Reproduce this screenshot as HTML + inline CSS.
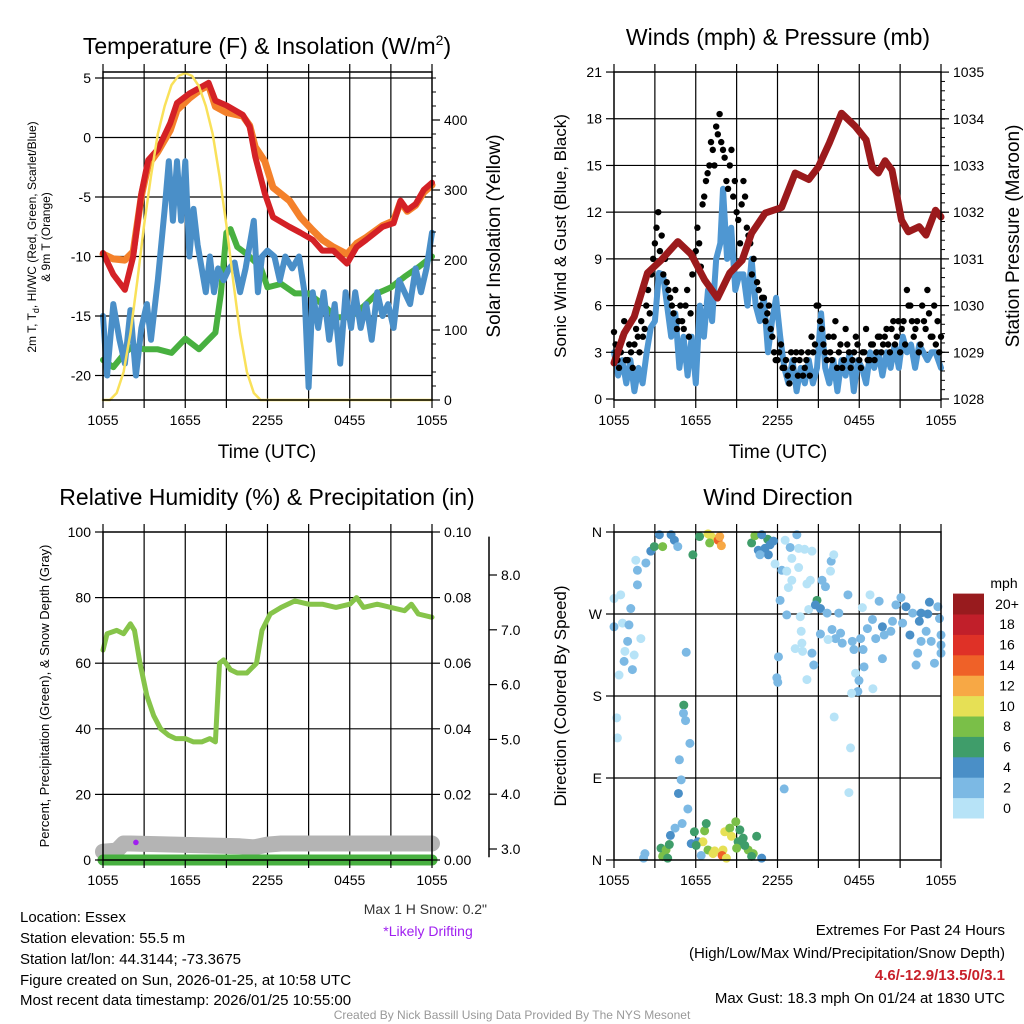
<!DOCTYPE html>
<html><head><meta charset="utf-8"><style>
html,body{margin:0;padding:0;background:#fff;}
svg{display:block;font-family:"Liberation Sans",sans-serif;}
</style></head><body>
<svg id="chart" width="1024" height="1024" viewBox="0 0 1024 1024" xmlns="http://www.w3.org/2000/svg">
<rect x="0" y="0" width="1024" height="1024" fill="#fff"/>
<g id="layer-grid"></g>
<g id="layer-data"></g>
<g id="layer-axes"></g>
<g id="text" font-family="Liberation Sans, sans-serif">
<text x="267" y="54" font-size="23" text-anchor="middle">Temperature (F) &amp; Insolation (W/m<tspan font-size="14" dy="-9">2</tspan><tspan dy="9">)</tspan></text>
<text x="778" y="45" font-size="23" text-anchor="middle">Winds (mph) &amp; Pressure (mb)</text>
<text x="267" y="505" font-size="23" text-anchor="middle">Relative Humidity (%) &amp; Precipitation (in)</text>
<text x="778" y="505" font-size="23" text-anchor="middle">Wind Direction</text>
<g font-size="12" text-anchor="middle">
<text transform="translate(36,237) rotate(-90)">2m T, T<tspan font-size="9" dy="3">d</tspan><tspan dy="-3">, HI/WC (Red, Green, Scarlet/Blue)</tspan></text>
<text transform="translate(50,237) rotate(-90)">&amp; 9m T (Orange)</text>
</g>
<text transform="translate(500,236) rotate(-90)" font-size="19" text-anchor="middle">Solar Insolation (Yellow)</text>
<text transform="translate(566,236) rotate(-90)" font-size="17" text-anchor="middle">Sonic Wind &amp; Gust (Blue, Black)</text>
<text transform="translate(1019,236) rotate(-90)" font-size="19" text-anchor="middle">Station Pressure (Maroon)</text>
<text transform="translate(49,696) rotate(-90)" font-size="13" text-anchor="middle">Percent, Precipitation (Green), &amp; Snow Depth (Gray)</text>
<text transform="translate(566,696) rotate(-90)" font-size="17" text-anchor="middle">Direction (Colored By Speed)</text>
<text x="267" y="458" font-size="19" text-anchor="middle">Time (UTC)</text>
<text x="778" y="458" font-size="19" text-anchor="middle">Time (UTC)</text>
<text x="1004" y="588" font-size="14" text-anchor="middle">mph</text>
<text x="487" y="914" font-size="14" fill="#333" text-anchor="end">Max 1 H Snow: 0.2"</text>
<text x="428" y="936" font-size="14" fill="#a020f0" text-anchor="middle">*Likely Drifting</text>
<g font-size="15">
<text x="20" y="922">Location: Essex</text>
<text x="20" y="943">Station elevation: 55.5 m</text>
<text x="20" y="964">Station lat/lon: 44.3144; -73.3675</text>
<text x="20" y="985">Figure created on Sun, 2026-01-25, at 10:58 UTC</text>
<text x="20" y="1005">Most recent data timestamp: 2026/01/25 10:55:00</text>
</g>
<g font-size="15" text-anchor="end">
<text x="1005" y="935">Extremes For Past 24 Hours</text>
<text x="1005" y="958">(High/Low/Max Wind/Precipitation/Snow Depth)</text>
<text x="1005" y="980" fill="#c8202a" font-weight="bold">4.6/-12.9/13.5/0/3.1</text>
<text x="1005" y="1003">Max Gust: 18.3 mph On 01/24 at 1830 UTC</text>
</g>
<text x="512" y="1019" font-size="12" fill="#999" text-anchor="middle">Created By Nick Bassill Using Data Provided By The NYS Mesonet</text>
</g>
</svg>
<script>
// ---------- data ----------
const timeLabels = ["1055","1655","2255","0455","1055"];
const tempTimes = [0,0.75,1.6,2.2,2.8,3.3,4.0,4.9,5.4,6.3,7.1,7.7,8.2,9.0,10.2,10.7,11.1,11.8,12.4,13.6,14.4,15.3,16.0,16.8,17.8,18.5,19.2,20.4,21.2,21.7,22.2,22.8,23.4,24];
const tempRed = [-9.7,-11.5,-12.8,-10.0,-4.7,-1.9,-1.0,1.2,2.9,3.7,4.2,4.6,3.1,2.7,1.9,0.9,-1.6,-4.7,-6.7,-7.5,-8.0,-8.6,-9.5,-9.5,-10.6,-9.2,-8.6,-7.5,-7.2,-5.3,-6.1,-5.6,-4.4,-3.8];
const temp9m = [-9.8,-10.2,-10.3,-9.6,-4.9,-2.3,-1.2,0.6,2.3,3.3,4.0,4.4,2.6,2.1,1.8,1.0,-0.8,-2.0,-4.2,-5.3,-6.7,-7.8,-8.6,-9.2,-9.8,-8.9,-8.4,-7.4,-7.0,-5.4,-6.2,-5.7,-4.6,-4.0];
const dewTimes = [0,0.75,1.6,2.2,3,4,5,6,7,8.2,8.6,9,9.3,9.8,10.5,11.5,12,13,14,15,16,17,18,19,20,21,22,23,24];
const dewPoint = [-18.7,-19.3,-18.1,-17.5,-17.8,-17.8,-18.1,-16.9,-17.8,-16.4,-13.1,-8.0,-7.7,-9.2,-9.8,-10.9,-12.6,-12.3,-13.1,-13.1,-14.0,-15.1,-15.1,-14.2,-13.1,-12.6,-11.7,-10.9,-10.0];
const wcTimes = [0,0.3,0.75,1.2,1.6,2.0,2.4,2.8,3.2,3.5,4.0,4.5,4.8,5.1,5.4,5.7,6.0,6.3,6.6,6.9,7.2,7.5,7.8,8.1,8.4,8.8,9.2,9.6,10.0,10.4,10.7,11.0,11.3,11.6,12.0,12.5,12.9,13.3,13.8,14.3,14.7,15.0,15.3,15.7,16.1,16.5,16.9,17.3,17.7,18.1,18.4,18.8,19.2,19.6,20.0,20.4,20.8,21.2,21.6,22.0,22.4,22.8,23.2,23.6,24];
const windChill = [-15,-20,-14,-17,-19,-14.5,-20,-16,-14,-17,-12,-6,-2,-7,-2,-7,-2,-10,-6,-9,-11,-13,-10,-13,-11,-12,-11,-10.5,-13,-11,-9,-7,-13,-10,-9.5,-10,-12,-10,-11,-10,-13,-21,-13,-16,-13,-17,-14,-19,-13,-16,-13,-16,-14,-17,-13,-15,-14,-16,-12,-13,-14,-11,-13,-11,-8];
const solarTimes = [0,0.5,1,1.5,2,2.5,3,3.5,4,4.5,5,5.5,6,6.5,7,7.5,8,8.5,9,9.5,10,10.5,11,11.5,24];
const solar = [0,0,10,40,95,170,250,320,380,420,450,463,467,463,448,420,380,320,250,170,95,40,10,0,0];
const presTimes = [0,0.74,1.48,2.46,3.45,4.68,5.66,6.65,7.6,8.5,9.4,10.1,11.1,12.3,13.3,14.3,15.0,15.8,16.7,17.7,18.5,18.95,19.4,19.9,20.4,21.1,21.6,22.4,22.9,23.6,24];
const pressure = [1028.77,1029.41,1029.76,1030.7,1030.97,1031.37,1031.1,1030.55,1030.16,1030.7,1030.97,1031.55,1031.98,1032.1,1032.84,1032.7,1032.97,1033.48,1034.12,1033.84,1033.55,1032.97,1032.84,1033.1,1032.9,1031.83,1031.58,1031.69,1031.51,1032.04,1031.9];
const windTimes = [0,0.3,0.6,0.9,1.2,1.5,1.8,2.1,2.4,2.7,3.0,3.3,3.6,3.9,4.2,4.5,4.8,5.1,5.4,5.7,6.0,6.3,6.6,6.9,7.2,7.5,7.8,8.0,8.3,8.6,8.9,9.2,9.5,9.8,10.1,10.4,10.7,11.0,11.3,11.6,11.9,12.2,12.5,12.8,13.1,13.4,13.7,14.0,14.3,14.6,14.9,15.2,15.5,15.8,16.1,16.4,16.7,17.0,17.3,17.6,17.9,18.2,18.5,18.8,19.1,19.4,19.7,20.0,20.3,20.6,20.9,21.2,21.5,21.8,22.1,22.4,22.7,23.0,23.3,23.6,24];
const windSpeed = [3,1.5,2.5,1,2.5,0.5,2,1,3,4.6,5,8.1,8,6,4,5.5,2,4,1.5,4,1,6,4,7,5,9,10,13.5,9,11,7,8,8,6,9,6,5,6.5,3,5,6.5,4,2,1,2.5,0.5,2,1,2.5,1,2,5.5,2,1,2.5,0.5,2.5,1.5,3,0.5,2.5,2,1,3,2,3,1.5,3,2,3.5,2,4,3,3.5,2,3.5,3,2.5,3,3,2];
const gustTimes = [0,0.25,0.5,0.75,1,1.25,1.5,1.75,2,2.25,2.5,2.75,3,3.25,3.5,3.75,4,4.25,4.5,4.75,5,5.25,5.5,5.75,6,6.25,6.5,6.75,7,7.25,7.5,7.75,8,8.25,8.5,8.75,9,9.25,9.5,9.75,10,10.25,10.5,10.75,11,11.25,11.5,11.75,12,12.25,12.5,12.75,13,13.25,13.5,13.75,14,14.25,14.5,14.75,15,15.25,15.5,15.75,16,16.25,16.5,16.75,17,17.25,17.5,17.75,18,18.25,18.5,18.75,19,19.25,19.5,19.75,20,20.25,20.5,20.75,21,21.25,21.5,21.75,22,22.25,22.5,22.75,23,23.25,23.5,23.75,24];
const gust = [4.3,2.5,3,5,2.5,3,3.5,4,5,4.5,7,8,10,12,10.5,9,7,6,7,5,5,6,4,8,9.5,10,12.5,14,15,16,17.5,18.3,16,14,15,13,12,10,14,11,10,9,7.5,6,6.5,5.5,4.5,3,2.5,3.5,2,1.5,3,2.5,1.5,3,2,3,4,3.5,6,4.5,3,4,2.5,5,3,2,4.5,3,2.5,4,2.5,3,4.5,2.5,3.5,3,4,3.5,4.5,3,5,4,3,5,7,6,4,5,3.5,5,7,4,6,5,4];
const gust2Times = [0.12,0.37,0.62,0.87,1.12,1.37,1.62,1.87,2.12,2.37,2.62,2.87,3.12,3.37,3.62,3.87,4.12,4.37,4.62,4.87,5.12,5.37,5.62,5.87,6.12,6.37,6.62,6.87,7.12,7.37,7.62,7.87,8.12,8.37,8.62,8.87,9.12,9.37,9.62,9.87,10.12,10.37,10.62,10.87,11.12,11.37,11.62,11.87,12.12,12.37,12.62,12.87,13.12,13.37,13.62,13.87,14.12,14.37,14.62,14.87,15.12,15.37,15.62,15.87,16.12,16.37,16.62,16.87,17.12,17.37,17.62,17.87,18.12,18.37,18.62,18.87,19.12,19.37,19.62,19.87,20.12,20.37,20.62,20.87,21.12,21.37,21.62,21.87,22.12,22.37,22.62,22.87,23.12,23.37,23.62,23.87];
const gust2 = [3.5,2,4,2.5,3.5,2,4.5,3,4,6,5.5,9,11,9.5,8,7.5,6.5,5.5,4.5,6,4.5,7,5.5,9,11,8.5,13,14.5,16.5,15,17,16.5,15.5,13.5,16,14,11.5,12.5,13,10.5,8,11,7,6.5,5,6,4,2.5,3,2,2.5,1,2,3,2.5,1.5,2.5,1.5,3,6,5,3.5,2.5,3,4,2,3.5,2.5,3.5,2,3,3.5,2,3,2.5,3.5,2.5,4,3,4,3.5,4.5,3.5,5,4.5,3.5,6,5,4.5,3,6,4.5,5.5,4,3.5,3];
const rhTimes = [0,0.3,1,1.5,2,2.3,2.7,3.2,3.7,4.2,4.8,5.3,6,6.6,7.2,7.8,8.2,8.5,8.8,9.3,9.8,10.5,11.2,11.6,12.2,13,14,15,16,17,18,18.5,19,20,21,22,22.5,23,24];
const rh = [64,69,70,69,72,70,60,50,44,40,38,37,37,36,36,37,36,60,61,58,57,57,60,70,75,77,79,78,78,77,78,80,77,78,77,76,78,75,74];
const snowTimes = [0,1,1.5,2,10,11,12,13,24];
const snowDepth = [2.95,2.97,3.1,3.1,3.05,3.03,3.08,3.1,3.1];
const precipTimes = [0,24];
const precip = [0,0];
const dirTimes = [0,0,0.37,0.2,0.25,0.62,1.1,1.0,0.8,0.74,1.35,1.48,1.97,1.23,0.49,1.72,1.72,1.6,2.34,2.7,2.96,3.57,3.33,4.19,4.43,4.68,5.79,5.3,5.12,5.1,5.25,5.57,4.8,4.93,4.73,5.42,4.48,5.0,4.14,3.45,3.82,3.57,3.94,2.27,2.17,4.06,6.28,6.9,7.14,7.64,7.76,7.88,7.02,5.9,6.65,6.77,5.67,6.16,6.53,6.03,6.9,7.27,7.39,8.0,7.93,8.25,6.4,8.13,8.5,8.62,8.94,9.24,9.48,9.11,9.0,9.85,10.22,10.47,10.1,10.84,9.6,10.1,10.34,11.28,10.84,10.59,11.45,11.7,11.08,11.33,10.71,12.56,12.93,13.42,13.55,13.05,13.99,14.53,11.82,12.32,12.68,13.55,13.05,12.8,14.16,14.41,15.27,15.52,15.89,15.94,16.13,12.19,12.68,13.67,14.29,14.9,14.78,15.15,15.64,16.5,17.17,18.23,18.79,19.46,20.69,21.06,21.43,21.92,22.54,23.15,23.77,23.89,23.03,22.41,21.18,20.44,19.7,18.97,18.6,18.1,19.21,19.83,20.32,21.72,22.91,24,22.54,23.28,24,22.29,22.17,23.52,24,19.7,18.35,18.28,17.61,17.49,16.75,16.26,16.63,16.0,15.71,15.15,14.53,14.66,13.79,13.3,13.84,13.74,12.07,11.95,12.02,14.16,17.73,17.98,17.9,17.44,19.0,16.16,17.36,17.24,12.49];
const dirDeg = [287,256,203,156,134,260,258,240,229,218,209,225,243,276,291,302,318,329,326,339,344,344,357,357,351,344,335,228,170,161,153,128,110,88,73,56,35,40,27,13,11,4,2,7,2,17,355,358,355,351,355,345,348,31,32,40,18,20,20,16,11,7,10,11,5,2,5,31,35,26,42,33,24,20,13,11,7,26,4,2,16,348,356,352,357,340,346,350,342,335,335,351,343,357,342,331,341,339,325,318,317,321,307,299,303,307,307,300,317,328,335,285,269,267,275,285,280,276,271,271,291,277,291,284,280,288,278,271,271,283,278,265,270,262,260,262,256,264,254,243,243,247,251,247,251,247,240,240,236,227,214,216,227,221,212,231,231,240,238,243,249,253,242,248,227,214,238,232,229,251,223,200,195,198,205,197,185,183,188,157,123,74,78];
const dirSpeed = [1,2,0,1,0,0,2,2,0,2,2,0,0,2,0,2,2,0,2,4,6,8,4,4,4,2,6,2,6,2,2,2,2,2,4,2,2,2,4,6,8,8,6,2,2,6,6,10,10,14,12,12,8,6,8,6,4,4,10,6,8,10,10,10,14,10,2,10,8,10,8,6,6,6,8,8,8,6,6,4,6,6,8,6,4,4,4,4,4,4,2,0,2,2,0,0,0,0,0,2,0,0,0,0,0,0,2,2,0,2,0,2,2,0,0,6,4,4,2,2,2,0,0,2,2,2,4,2,4,4,2,2,4,4,2,2,4,2,2,2,2,2,2,4,2,2,2,2,2,2,2,2,2,2,2,2,2,2,2,2,2,2,0,2,2,2,0,0,0,0,2,2,2,0,0,2,2,0,0,0,0,0,2];
const speedBins = [0,2,4,6,8,10,12,14,16,18,20];
const speedLabels = ["0","2","4","6","8","10","12","14","16","18","20+"];
const speedColors = ["#b7e3f7","#7cb9e4","#4a8fc7","#3f9d6a","#7abf48","#e6e055","#f7a845","#ef6128","#df3127","#c11f2a","#981b1e"];

// ---------- helpers ----------
const NS = "http://www.w3.org/2000/svg";
const gGrid = document.getElementById("layer-grid");
const gData = document.getElementById("layer-data");
const gAxes = document.getElementById("layer-axes");
function mk(tag, attrs, parent){ const e=document.createElementNS(NS,tag); for(const k in attrs) e.setAttribute(k,attrs[k]); parent.appendChild(e); return e; }
function txt(str, attrs, parent){ const e=mk("text",attrs,parent); e.textContent=str; return e; }

const L = {x0:103,x1:432}, R = {x0:614,x1:941};
const top1=72, bot1=400, top2=532, bot2=860;
const xs = (p,t)=>p.x0 + t*(p.x1-p.x0)/24;
const yTemp = v=>78 + (5-v)*11.9;
const ySolar = v=>bot1 - v*0.7;
const yWind = v=>399 - v*15.57;
const yPres = v=>399 - (v-1028)*46.7;
const yRH = v=>bot2 - v*3.28;
const yPrecip = v=>bot2 - v*3280;
const ySnow = v=>849 - (v-3)*54.8;
const yDir = v=>bot2 - v*(bot2-top2)/360;

function polyline(p, times, vals, yf, color, w, name){
  const pts = times.map((t,i)=>xs(p,t).toFixed(1)+","+yf(vals[i]).toFixed(1)).join(" ");
  const e = mk("polyline",{points:pts,fill:"none",stroke:color,"stroke-width":w,"stroke-linejoin":"round","stroke-linecap":"round"},gData);
  
  
  return e;
}

function panelFrame(p, top, bot, hGrid, name){
  const g = mk("g",{},gGrid);
  
  
  for(let h=3; h<24; h+=3){ const x=xs(p,h); mk("line",{x1:x,y1:top,x2:x,y2:bot,stroke:"#000","stroke-width":1.2},g); }
  hGrid.forEach(y=>mk("line",{x1:p.x0,y1:y,x2:p.x1,y2:y,stroke:"#000","stroke-width":1.2},g));
  const f = mk("rect",{x:p.x0,y:top,width:p.x1-p.x0,height:bot-top,fill:"none",stroke:"#000","stroke-width":1.5},gAxes);
  
  
  const tg = mk("g",{},gAxes);
  
  
  for(let h=0; h<=24; h+=3){ const x=xs(p,h); mk("line",{x1:x,y1:bot,x2:x,y2:bot+8,stroke:"#000","stroke-width":1.2},tg); mk("line",{x1:x,y1:top,x2:x,y2:top-8,stroke:"#000","stroke-width":1.2},tg); }
  timeLabels.forEach((s,i)=>txt(s,{x:xs(p,i*6),y:bot+25,"font-size":14,"text-anchor":"middle"},tg));
}
function yTicks(x, vals, labels, yf, side, name, minor){
  const g = mk("g",{},gAxes);
  
  
  const d = side==="left"?-1:1;
  vals.forEach((v,i)=>{ const y=yf(v); mk("line",{x1:x,y1:y,x2:x+d*8,y2:y,stroke:"#000","stroke-width":1.2},g);
    txt(labels[i],{x:x+d*12,y:y+5,"font-size":14,"text-anchor":side==="left"?"end":"start"},g); });
  (minor||[]).forEach(v=>{ const y=yf(v); mk("line",{x1:x,y1:y,x2:x+d*4,y2:y,stroke:"#000","stroke-width":1},g); });
}

// ---------- panel 1: temperature ----------
const tempTicks=[-20,-15,-10,-5,0,5];
panelFrame(L, top1, bot1, tempTicks.map(yTemp), "temp-panel");
yTicks(L.x0, tempTicks, tempTicks.map(String), yTemp, "left", "temp-y-axis");
const solarTicks=[0,100,200,300,400];
const solarMinor=[]; for(let v=20; v<470; v+=20) solarMinor.push(v);
yTicks(L.x1, solarTicks, solarTicks.map(String), ySolar, "right", "solar-y-axis", solarMinor);
polyline(L, tempTimes, temp9m, yTemp, "#f4812b", 7, "temp-9m-line");
polyline(L, dewTimes, dewPoint, yTemp, "#48b040", 6, "dewpoint-line");
polyline(L, wcTimes, windChill, yTemp, "#4a8fc8", 6, "windchill-line");
polyline(L, tempTimes, tempRed, yTemp, "#d42126", 6, "temp-2m-line");
polyline(L, solarTimes, solar, ySolar, "#f9e15a", 2.5, "solar-line");

// ---------- panel 2: winds ----------
const windTicks=[0,3,6,9,12,15,18,21];
panelFrame(R, top1, bot1, [3,6,9,12,15,18].map(yWind), "wind-panel");
yTicks(R.x0, windTicks, windTicks.map(String), yWind, "left", "wind-y-axis");
const presTicks=[1028,1029,1030,1031,1032,1033,1034,1035];
const presMinor=[]; for(let v=1028.2; v<1035; v+=0.2) presMinor.push(v);
yTicks(R.x1, presTicks, presTicks.map(String), yPres, "right", "pressure-y-axis", presMinor);
polyline(R, windTimes, windSpeed, yWind, "#4f97d2", 6, "wind-speed-line");
const gg = mk("g",{fill:"#000"},gData);


gustTimes.forEach((t,i)=>{ const c=mk("circle",{cx:xs(R,t),cy:yWind(gust[i]),r:3.2},gg);
  
   });
gust2Times.forEach((t,i)=>{ const c=mk("circle",{cx:xs(R,t),cy:yWind(gust2[i]),r:3.2},gg);
  
   });
polyline(R, presTimes, pressure, yPres, "#9b1a1c", 7, "pressure-line");

// ---------- panel 3: RH ----------
const rhTicks=[0,20,40,60,80,100];
panelFrame(L, top2, bot2, [20,40,60,80].map(yRH), "rh-panel");
yTicks(L.x0, rhTicks, rhTicks.map(String), yRH, "left", "rh-y-axis");
const prTicks=[0,0.02,0.04,0.06,0.08,0.10];
yTicks(L.x1, prTicks, prTicks.map(v=>v.toFixed(2)), yPrecip, "right", "precip-y-axis");
const snTicks=[3,4,5,6,7,8];
const sa = mk("line",{x1:489,y1:ySnow(8.7),x2:489,y2:ySnow(2.85),stroke:"#000","stroke-width":1.5},gAxes);


yTicks(489, snTicks, snTicks.map(v=>v.toFixed(1)), ySnow, "right", "snow-y-axis");
polyline(L, snowTimes, snowDepth, ySnow, "#b4b4b4", 16, "snow-depth-line");
const drift = mk("circle",{cx:xs(L,2.4),cy:ySnow(3.12),r:2.8,fill:"#a020f0"},gData);


polyline(L, precipTimes, precip, yPrecip, "#48b040", 11, "precip-line");
polyline(L, rhTimes, rh, yRH, "#86c44a", 5, "rh-line");

// ---------- panel 4: direction ----------
const dirTicks=[0,90,180,270,360], dirLabels=["N","E","S","W","N"];
panelFrame(R, top2, bot2, [90,180,270].map(yDir), "direction-panel");
yTicks(R.x0, dirTicks, dirLabels, yDir, "left", "direction-y-axis");
function colorFor(s){ let k=0; speedBins.forEach((b,i)=>{ if(s>=b) k=i; }); return speedColors[k]; }
const dg = mk("g",{},gData);


dirTimes.forEach((t,i)=>{ const c=mk("circle",{cx:xs(R,t),cy:yDir(dirDeg[i]),r:4.5,fill:colorFor(dirSpeed[i])},dg);
  
   });

// colorbar
const cb = mk("g",{},gAxes);


const boxH = 20.4, cbBottom = 818;
speedLabels.forEach((s,i)=>{
  const y = cbBottom - (i+1)*boxH;
  const r = mk("rect",{x:953,y:y,width:31,height:boxH+0.5,fill:speedColors[i]},cb);
  
  
  txt(s,{x:1007,y:y+boxH/2+5,"font-size":14,"text-anchor":"middle"},cb);
});
</script>
</body></html>
